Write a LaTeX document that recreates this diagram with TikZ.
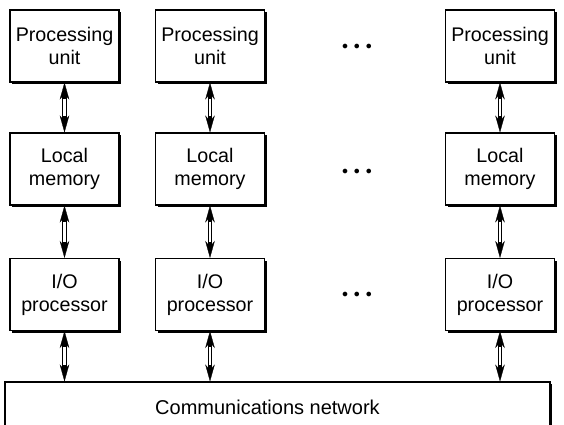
\documentclass[tikz,border=0pt]{standalone}
\usepackage{fontspec}
\setmainfont{Liberation Sans}
\usepackage{tikz}
\usetikzlibrary{positioning,arrows.meta,shadows}

\tikzset{
unitbox/.style={draw, line width=1.1pt, fill=white, minimum width=109pt, minimum height=72pt, align=center, inner sep=0pt, font=\fontsize{19.7}{23}\selectfont, drop shadow={shadow xshift=2pt, shadow yshift=-2pt, fill=black, opacity=1}},
link/.style={line width=4.2pt, {Stealth[length=17pt,width=9.5pt,line width=0.3pt]}-{Stealth[length=17pt,width=9.5pt,line width=0.3pt]}, postaction={draw, white, line width=2.2pt, arrows=-, shorten <=16pt, shorten >=16pt}},
moredots/.style={font=\fontsize{12.5}{14}\selectfont}
}

\begin{document}
\begin{tikzpicture}[x=1pt,y=-1pt]
\useasboundingbox (0,0) rectangle (564,424);
\node[unitbox] (pu1) at (64.5,46) {Processing\\unit};
\node[unitbox] (pu2) at (210,46) {Processing\\unit};
\node[unitbox] (pu3) at (500,46) {Processing\\unit};
\node[unitbox] (lm1) at (64.5,169) {Local\\memory};
\node[unitbox] (lm2) at (210,169) {Local\\memory};
\node[unitbox] (lm3) at (500,169) {Local\\memory};
\node[unitbox] (io1) at (64.5,294.5) {I/O\\processor};
\node[unitbox] (io2) at (210,294.5) {I/O\\processor};
\node[unitbox] (io3) at (500,294.5) {I/O\\processor};
\node[unitbox, minimum width=545pt, minimum height=50pt, font=\fontsize{20}{23}\selectfont] (net) at (277.5,407) {Communications network\hspace*{20pt}};
% dots between the columns
\node[moredots] (dots1) at (357,47) {$\bullet\;\bullet\;\bullet$};
\node[moredots] (dots2) at (357,172) {$\bullet\;\bullet\;\bullet$};
\node[moredots] (dots3) at (357,295) {$\bullet\;\bullet\;\bullet$};
% links
\draw[link] (pu1) -- (lm1);
\draw[link] (pu2) -- (lm2);
\draw[link] (pu3) -- (lm3);
\draw[link] (lm1) -- (io1);
\draw[link] (lm2) -- (io2);
\draw[link] (lm3) -- (io3);
\draw[link] (io1) -- (io1 |- net.north);
\draw[link] (io2) -- (io2 |- net.north);
\draw[link] (io3) -- (io3 |- net.north);
\end{tikzpicture}
\end{document}
